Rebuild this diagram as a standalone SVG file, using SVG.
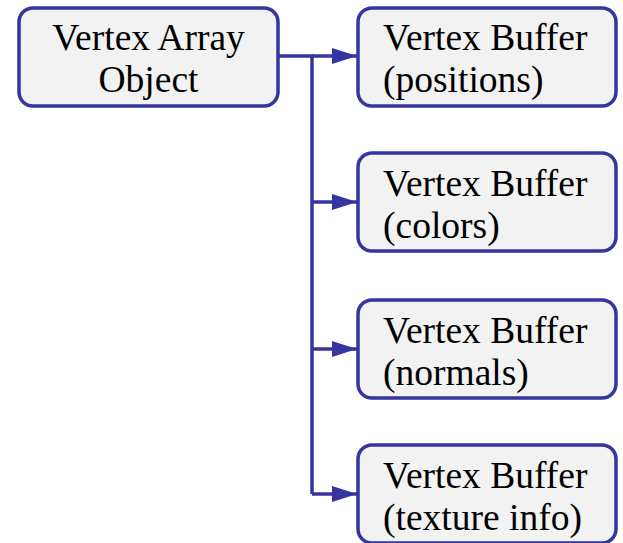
<svg xmlns="http://www.w3.org/2000/svg" width="623" height="543" viewBox="0 0 623 543">
  <style>
    .box { fill: #f2f2f2; stroke: #3535a0; stroke-width: 3.5; }
    .lbl { font-family: "Liberation Serif", "Times New Roman", serif; font-size: 37.5px; fill: #000; }
    .conn { fill: none; stroke: #3535a0; stroke-width: 3.5; }
  </style>
  <defs>
    <marker id="arr" markerUnits="userSpaceOnUse" markerWidth="25" markerHeight="18" refX="25" refY="9" orient="auto">
      <path d="M0,1 L25,9 L0,17 z" fill="#3535a0"/>
    </marker>
  </defs>
  <g id="connectors">
    <path class="conn" d="M278,56 H312 V494"/>
    <path class="conn" d="M312,56 H357" marker-end="url(#arr)"/>
    <path class="conn" d="M312,202 H357" marker-end="url(#arr)"/>
    <path class="conn" d="M312,349 H357" marker-end="url(#arr)"/>
    <path class="conn" d="M312,494 H357" marker-end="url(#arr)"/>
  </g>
  <g id="vao">
    <rect class="box" x="19" y="8" width="259" height="98" rx="14"/>
    <text class="lbl" x="148.5" y="50" text-anchor="middle">Vertex Array</text>
    <text class="lbl" x="148.5" y="92" text-anchor="middle">Object</text>
  </g>
  <g id="vb-positions">
    <rect class="box" x="358" y="8" width="258" height="98" rx="14"/>
    <text class="lbl" x="383" y="50">Vertex Buffer</text>
    <text class="lbl" x="383" y="92">(positions)</text>
  </g>
  <g id="vb-colors">
    <rect class="box" x="358" y="153" width="258" height="98" rx="14"/>
    <text class="lbl" x="383" y="196">Vertex Buffer</text>
    <text class="lbl" x="383" y="238">(colors)</text>
  </g>
  <g id="vb-normals">
    <rect class="box" x="358" y="300" width="258" height="98" rx="14"/>
    <text class="lbl" x="383" y="343">Vertex Buffer</text>
    <text class="lbl" x="383" y="385">(normals)</text>
  </g>
  <g id="vb-texture">
    <rect class="box" x="358" y="445" width="258" height="98" rx="14"/>
    <text class="lbl" x="383" y="488">Vertex Buffer</text>
    <text class="lbl" x="383" y="530">(texture info)</text>
  </g>
</svg>
